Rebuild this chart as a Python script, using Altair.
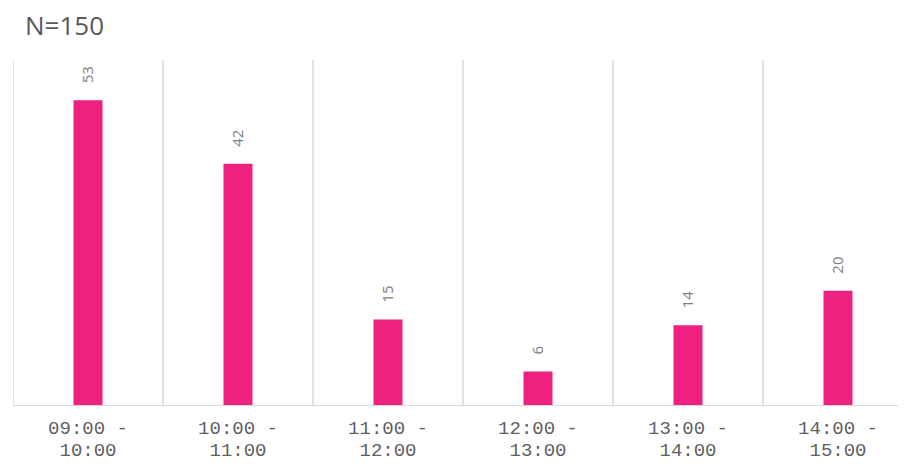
import altair as alt
import pandas as pd

slots = ["09:00 - 10:00", "10:00 - 11:00", "11:00 - 12:00",
         "12:00 - 13:00", "13:00 - 14:00", "14:00 - 15:00"]
counts = [53, 42, 15, 6, 14, 20]
title_text = "N=150"

df = pd.DataFrame({"slot": slots, "count": counts})

W, H = 885, 346
xscale = alt.Scale(domain=slots, range=[0, 900], paddingInner=0, paddingOuter=0)
yscale = alt.Scale(domain=[0, 60])

xaxis = alt.Axis(title=None, ticks=False, grid=False, domain=False,
                 labelAngle=0, labelFont="Liberation Mono",
                 labelFontSize=19, labelColor="#5f5f5f",
                 labelLineHeight=22, labelPadding=12,
                 labelExpr="[slice(datum.label, 0, 7), slice(datum.label, 8)]")

base = alt.Chart(df)

bars = base.mark_bar(size=29, color="#EE2180", clip=True).encode(
    x=alt.X("slot:N", scale=xscale, axis=xaxis),
    y=alt.Y("count:Q", scale=yscale, axis=None),
)

grid = base.mark_rule(color="#d9d9d9", strokeWidth=1.5, clip=True).encode(
    x=alt.X("slot:N", scale=xscale, bandPosition=0),
    y=alt.value(0),
    y2=alt.value(H),
)

baseline = base.mark_rule(color="#d9d9d9", strokeWidth=1.5, clip=True).encode(
    y=alt.Y(datum=0, scale=yscale),
)

labels = base.mark_text(angle=270, align="left", baseline="middle", dx=17,
                        fontSize=15, font="Open Sans", color="#808080", clip=True).encode(
    x=alt.X("slot:N", scale=xscale),
    y=alt.Y("count:Q", scale=yscale),
    text=alt.Text("count:Q"),
)

chart = alt.layer(bars, grid, baseline, labels).properties(
    width=W, height=H,
    autosize=alt.AutoSizeParams(type="none"),
    padding={"left": 5, "top": 52, "right": 0, "bottom": 56},
    title=alt.Title(title_text, anchor="start", fontSize=26, font="Open Sans",
                    fontWeight="normal", color="#595959", dx=12, offset=20),
).configure_view(stroke=None)

chart.save("out.html", embed_options={"renderer": "svg", "actions": False})
